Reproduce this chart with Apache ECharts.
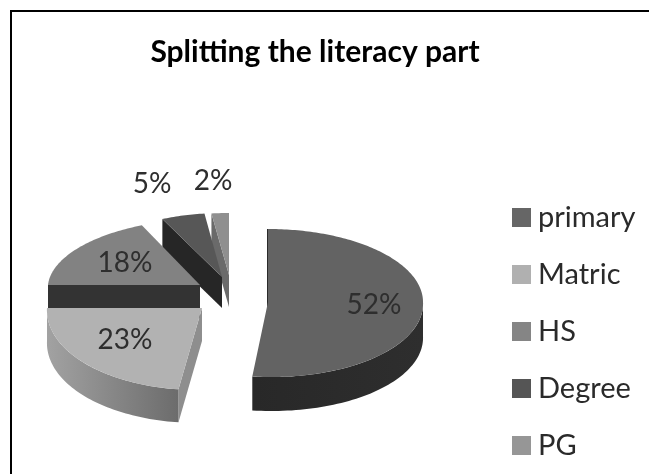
<!DOCTYPE html>
<html><head><meta charset="utf-8">
<style>html,body{margin:0;padding:0;background:#fff}#c{width:649px;height:474px}</style>
<script src="https://cdn.jsdelivr.net/npm/echarts@6/dist/echarts.min.js"></script>
</head><body><div id="c"></div>
<script>
const categories = ['primary', 'Matric', 'HS', 'Degree', 'PG'];
const shares = [52, 23, 18, 5, 2];
const titleText = 'Splitting the literacy part';

// drawing layout for each slice: exploded centre, ellipse radii (back/front), lean, colours, label spot
const looks = [
  {cx:268, cy:302, rx:155, back:73, front:75, leanB:0, leanF:0.05, depth:34, z:5, top:'#636363', cut:'#2b2b2b', wall:['#2e2e2e','#282828'], key:'#666666', lx:374, ly:305},
  {cx:202, cy:308, rx:155, back:70, front:82, leanB:0, leanF:-0.05, depth:33, z:4, top:'#b2b2b2', cut:'#8e8e8e', wall:['#6c6c6c','#a2a2a2'], key:'#b0b0b0', lx:125, ly:340},
  {cx:200, cy:285, rx:152, back:66, front:75, leanB:-0.11, leanF:0, depth:33, z:3, top:'#828282', cut:'#333333', wall:['#333333','#333333'], key:'#858585', lx:125, ly:263},
  {cx:222, cy:277, rx:140, back:64, front:75, leanB:0, leanF:0, depth:31, z:2, top:'#575757', cut:'#262626', wall:['#262626','#262626'], key:'#555555', lx:152, ly:184},
  {cx:229, cy:275, rx:140, back:62, front:75, leanB:0, leanF:0, depth:32, z:1, top:'#8f8f8f', cut:'#6a6a6a', wall:['#6a6a6a','#6a6a6a'], key:'#969696', lx:213, ly:181}
];

const total = shares.reduce((a, b) => a + b, 0);
const RAD = Math.PI / 180;
let running = 0;
const spans = shares.map(v => { const s = running; running += v; return [s / total * 360, running / total * 360]; });

function edge(k, deg, drop) {
  const t = deg * RAD, c = Math.cos(t);
  const dy = -(c > 0 ? k.back : k.front) * c;
  return [k.cx + k.rx * Math.sin(t) + (dy < 0 ? k.leanB : k.leanF) * dy, k.cy + dy + (drop || 0)];
}
function renderSlice(i, api) {
  const k = looks[i], a = spans[i][0], b = spans[i][1];
  const kids = [];
  const apex = [k.cx, k.cy], apexLow = [k.cx, k.cy + k.depth];
  const face = (deg, fill) => kids.push({type:'polygon', shape:{points:[apex, edge(k, deg), edge(k, deg, k.depth), apexLow]},
    style:{fill, stroke:fill, lineWidth: deg % 360 === 0 ? 2 : 0}});
  if (Math.sin(a * RAD) <= 0) face(a, k.cut);
  if (Math.sin(b * RAD) > 0.001) face(b, k.cut);
  // outer wall: only the front half of the rim shows
  const wa = Math.max(a, 90), wb = Math.min(b, 270);
  if (wb > wa) {
    const up = [], low = [];
    for (let d = wa; d <= wb + 1e-6; d += (wb - wa) / 60) { up.push(edge(k, d)); low.unshift(edge(k, d, k.depth)); }
    const xs = up.map(p => p[0]);
    const x0 = Math.min(...xs), x1 = Math.max(...xs);
    kids.push({type:'polygon', shape:{points:up.concat(low)},
      style:{fill:new echarts.graphic.LinearGradient(x1, 0, x0, 0, [{offset:0,color:k.wall[0]},{offset:1,color:k.wall[1]}], true)}});
  }
  const pts = [apex];
  const n = Math.max(4, Math.round(b - a));
  for (let j = 0; j <= n; j++) pts.push(edge(k, a + (b - a) * j / n));
  kids.push({type:'polygon', shape:{points:pts}, style:{fill:k.top}});
  kids.push({type:'text', z2:50, style:{x:k.lx, y:k.ly, text:api.value(0) + '%', fill:'#2e2e2e', font:'28px Lato', align:'center', verticalAlign:'middle'}});
  return {type:'group', children:kids};
}

const chart = echarts.init(document.getElementById('c'), null, {renderer:'canvas'});
chart.setOption({
  animation:false,
  backgroundColor:'#ffffff',
  title:{text:titleText, left:310, top:32, textAlign:'center', textStyle:{fontFamily:'Lato', fontWeight:'bold', fontSize:30, color:'#000000'}},
  legend:{orient:'vertical', left:507, top:198, icon:'rect', itemWidth:19, itemHeight:19, itemGap:28, data:categories,
    textStyle:{fontFamily:'Lato', fontSize:29, color:'#2a2a2a', padding:[0,0,0,2], lineHeight:29}, selectedMode:false},
  graphic:[{type:'rect', silent:true, z:-1, shape:{x:11, y:11, width:660, height:500}, style:{fill:'none', stroke:'#000', lineWidth:2}}],
  series:categories.map((name, i) => ({
    type:'custom', name, coordinateSystem:'none', z:looks[i].z, silent:true,
    itemStyle:{color:looks[i].key},
    data:[[shares[i]]],
    renderItem:(p, api) => renderSlice(i, api)
  }))
});
</script></body></html>
